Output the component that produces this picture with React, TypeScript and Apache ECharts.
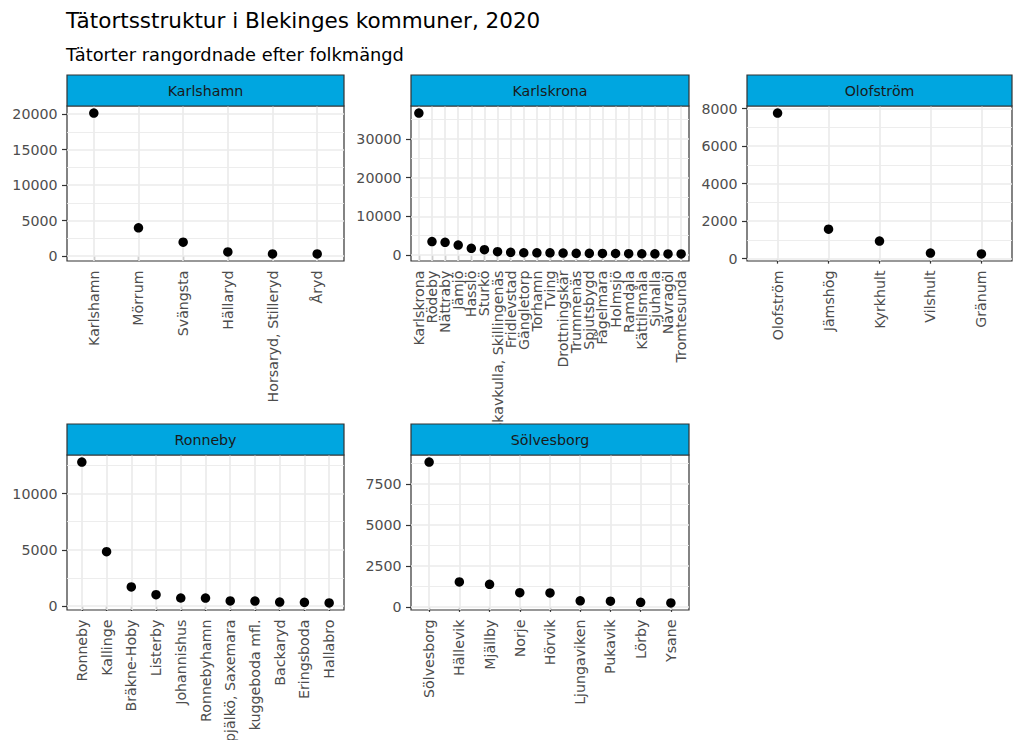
import React, { useEffect, useRef } from 'react';
import * as echarts from 'echarts';

// ---------- data ----------
const karlshamnPlaces = ['Karlshamn', 'Mörrum', 'Svängsta', 'Hällaryd', 'Horsaryd, Stilleryd', 'Åryd'];
const karlshamnPop = [20150, 3970, 1950, 570, 290, 290];
const karlshamnTicks = [0, 5000, 10000, 15000, 20000];
const karlshamnMinor = [2500, 7500, 12500, 17500];

const karlskronaPlaces = [
  'Karlskrona', 'Rödeby', 'Nättraby', 'Jämjö', 'Hasslö', 'Sturkö', 'Skavkulla, Skillingenäs',
  'Fridlevstad', 'Gängletorp', 'Torhamn', 'Tving', 'Drottningskär', 'Trummenäs', 'Spjutsbygd',
  'Fågelmara', 'Holmsjö', 'Ramdala', 'Kättilsmåla', 'Sjuhalla', 'Nävragöl', 'Tromtesunda',
];
const karlskronaPop = [36700, 3480, 3290, 2600, 1740, 1400, 880, 700, 600, 590, 580, 520, 450, 440, 420, 410, 350, 340, 330, 300, 290];
const karlskronaTicks = [0, 10000, 20000, 30000];
const karlskronaMinor = [5000, 15000, 25000, 35000];

const olofstromPlaces = ['Olofström', 'Jämshög', 'Kyrkhult', 'Vilshult', 'Gränum'];
const olofstromPop = [7770, 1570, 940, 300, 250];
const olofstromTicks = [0, 2000, 4000, 6000, 8000];
const olofstromMinor = [1000, 3000, 5000, 7000];

const ronnebyPlaces = [
  'Ronneby', 'Kallinge', 'Bräkne-Hoby', 'Listerby', 'Johannishus', 'Ronnebyhamn',
  'Spjälkö, Saxemara', 'kuggeboda mfl.', 'Backaryd', 'Eringsboda', 'Hallabro',
];
const ronnebyPop = [12800, 4830, 1690, 1010, 710, 700, 450, 440, 350, 330, 270];
const ronnebyTicks = [0, 5000, 10000];
const ronnebyMinor = [2500, 7500, 12500];

const solvesborgPlaces = ['Sölvesborg', 'Hällevik', 'Mjällby', 'Norje', 'Hörvik', 'Ljungaviken', 'Pukavik', 'Lörby', 'Ysane'];
const solvesborgPop = [8840, 1520, 1380, 870, 850, 370, 350, 280, 240];
const solvesborgTicks = [0, 2500, 5000, 7500];
const solvesborgMinor = [1250, 3750, 6250, 8750];

const titleText = 'Tätortsstruktur i Blekinges kommuner, 2020';
const subtitleText = 'Tätorter rangordnade efter folkmängd';

// ---------- layout / style ----------
const FONT = '"DejaVu Sans", sans-serif';
const STRIP_FILL = '#00A6E0';
const DARK = '#333333';
const GRID_COLOR = '#EBEBEB';
const TEXT_GREY = '#4D4D4D';
const AXIS_FS = 14.2;

const panels = [
  { name: 'Karlshamn', places: karlshamnPlaces, pop: karlshamnPop, ticks: karlshamnTicks, minor: karlshamnMinor, left: 67, top: 106, width: 277, height: 155, stripTop: 75 },
  { name: 'Karlskrona', places: karlskronaPlaces, pop: karlskronaPop, ticks: karlskronaTicks, minor: karlskronaMinor, left: 411, top: 106, width: 278, height: 155, stripTop: 75 },
  { name: 'Olofström', places: olofstromPlaces, pop: olofstromPop, ticks: olofstromTicks, minor: olofstromMinor, left: 747, top: 106, width: 265, height: 155, stripTop: 75 },
  { name: 'Ronneby', places: ronnebyPlaces, pop: ronnebyPop, ticks: ronnebyTicks, minor: ronnebyMinor, left: 67, top: 455, width: 277, height: 155, stripTop: 424 },
  { name: 'Sölvesborg', places: solvesborgPlaces, pop: solvesborgPop, ticks: solvesborgTicks, minor: solvesborgMinor, left: 411, top: 455, width: 278, height: 155, stripTop: 424 },
];

export default function App() {
  const ref = useRef<HTMLDivElement>(null);

  useEffect(() => {
    if (!ref.current) return;
    const chart = echarts.init(ref.current, null, { renderer: 'svg' });

    const grid: any[] = [];
    const xAxis: any[] = [];
    const yAxis: any[] = [];
    const series: any[] = [];
    const graphic: any[] = [
      {
        type: 'text', x: 66, y: 20, z: 100,
        style: { text: titleText, fontSize: 21.5, fontFamily: FONT, fill: '#000', align: 'left', verticalAlign: 'middle' },
      },
      {
        type: 'text', x: 66, y: 54, z: 100,
        style: { text: subtitleText, fontSize: 17.8, fontFamily: FONT, fill: '#000', align: 'left', verticalAlign: 'middle' },
      },
    ];

    const majorStyle = { color: GRID_COLOR, width: 1.7, type: 'solid' };
    const minorStyle = { color: GRID_COLOR, width: 0.9, type: 'solid' };

    panels.forEach((p, i) => {
      const idx = p.places.map((_, k) => k + 1);
      const oddIdx = idx.filter((v) => v % 2 === 1);
      const evenIdx = idx.filter((v) => v % 2 === 0);
      const data = p.pop.map((v, k) => [k + 1, v]);
      const fmt = (v: number) => p.places[Math.round(v) - 1] ?? '';

      grid.push({
        left: p.left, top: p.top, width: p.width, height: p.height,
        show: true, borderColor: DARK, borderWidth: 1.2, backgroundColor: '#ffffff',
        containLabel: false, outerBoundsMode: 'none',
      });

      const labelBase = {
        show: true, rotate: 90, margin: 9.5,
        showMinLabel: true, showMaxLabel: true, hideOverlap: false,
        color: TEXT_GREY, fontSize: AXIS_FS, fontFamily: FONT,
        formatter: fmt,
      };

      // main x axis: all ticks, odd labels
      const mainX = xAxis.length;
      xAxis.push({
        type: 'value', gridIndex: i, position: 'bottom', offset: 0,
        min: 0.4, max: p.places.length + 0.6,
        axisLine: { show: false },
        splitLine: { show: false },
        minorSplitLine: { show: false },
        axisTick: { show: true, customValues: idx, length: 5, lineStyle: { color: DARK, width: 1.2 } },
        axisLabel: { ...labelBase, customValues: oddIdx },
      });
      // companion x axis on the same scale: even labels
      xAxis.push({
        type: 'value', gridIndex: i, position: 'bottom', offset: 0,
        min: 0.4, max: p.places.length + 0.6,
        axisLine: { show: false },
        splitLine: { show: false },
        minorSplitLine: { show: false },
        axisTick: { show: false, customValues: evenIdx.length ? evenIdx : [1] },
        axisLabel: { ...labelBase, show: evenIdx.length > 0, customValues: evenIdx.length ? evenIdx : [1] },
      });

      yAxis.push({
        type: 'value', gridIndex: i,
        min: (e: any) => e.min - 0.05 * (e.max - e.min),
        max: (e: any) => e.max + 0.05 * (e.max - e.min),
        axisLine: { show: false },
        splitLine: { show: false },
        minorSplitLine: { show: false },
        axisTick: { show: true, customValues: p.ticks, length: 5, lineStyle: { color: DARK, width: 1.2 } },
        axisLabel: {
          show: true, customValues: p.ticks, margin: 9.5,
          showMinLabel: true, showMaxLabel: true,
          color: TEXT_GREY, fontSize: AXIS_FS, fontFamily: FONT,
          formatter: (v: number) => String(v),
        },
      });

      // grid lines (drawn through the axes' scales)
      series.push({
        type: 'scatter', xAxisIndex: mainX, yAxisIndex: i, z: 1, silent: true,
        data, symbolSize: 1, itemStyle: { opacity: 0 },
        markLine: {
          silent: true, symbol: ['none', 'none'], animation: false,
          label: { show: false }, emphasis: { disabled: true },
          data: [
            ...p.minor.map((v) => ({ yAxis: v, lineStyle: minorStyle })),
            ...p.ticks.map((v) => ({ yAxis: v, lineStyle: majorStyle })),
            ...idx.map((v) => ({ xAxis: v, lineStyle: majorStyle })),
          ],
        },
      });

      // points
      series.push({
        type: 'scatter', xAxisIndex: mainX, yAxisIndex: i, z: 5,
        data, symbol: 'circle', symbolSize: 9.5,
        itemStyle: { color: '#000000', opacity: 1 },
        emphasis: { disabled: true },
      });

      // strip
      graphic.push({
        type: 'rect', z: 50,
        shape: { x: p.left, y: p.stripTop, width: p.width, height: p.top - p.stripTop },
        style: { fill: STRIP_FILL, stroke: DARK, lineWidth: 1.2 },
      });
      graphic.push({
        type: 'text', z: 51,
        x: p.left + p.width / 2, y: p.stripTop + (p.top - p.stripTop) / 2,
        style: { text: p.name, fontSize: AXIS_FS, fontFamily: FONT, fill: '#1A1A1A', align: 'center', verticalAlign: 'middle' },
      });
    });

    chart.setOption({
      animation: false,
      backgroundColor: '#ffffff',
      textStyle: { fontFamily: FONT },
      grid, xAxis, yAxis, series, graphic,
    });

    return () => chart.dispose();
  }, []);

  return (
    <div
      ref={ref}
      style={{ position: 'absolute', left: 0, top: 0, width: 1014, height: 740, overflow: 'hidden', background: '#fff' }}
    />
  );
}
